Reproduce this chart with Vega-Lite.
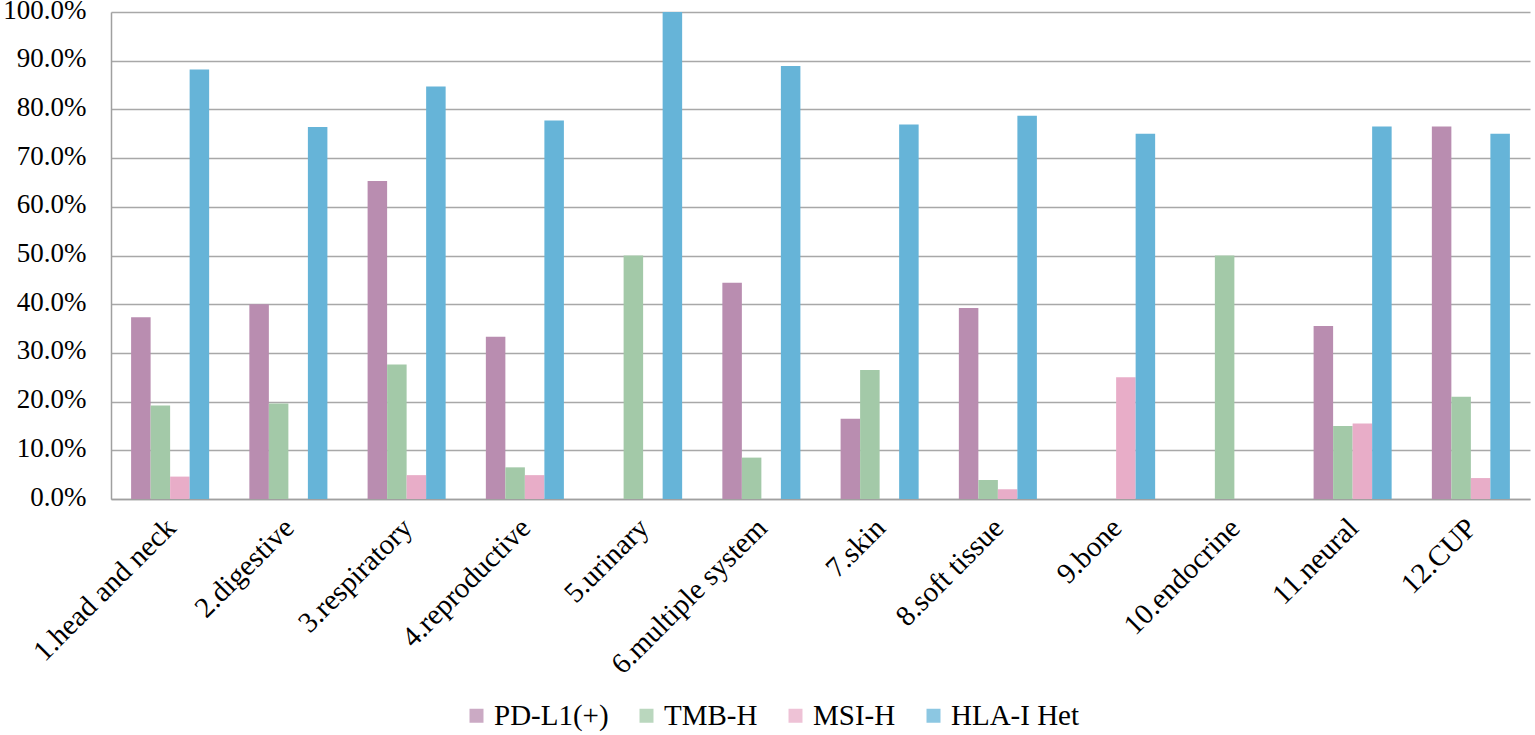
{
  "$schema": "https://vega.github.io/schema/vega-lite/v6.json",
  "width": 1419,
  "height": 487,
  "autosize": {"type": "none"},
  "padding": {"left": 111, "top": 12, "right": 5, "bottom": 236},
  "background": "white",
  "data": {
    "values": [
      {"site": "1.head and neck", "marker": "PD-L1(+)", "value": 0.373},
      {"site": "1.head and neck", "marker": "TMB-H", "value": 0.192},
      {"site": "1.head and neck", "marker": "MSI-H", "value": 0.046},
      {"site": "1.head and neck", "marker": "HLA-I Het", "value": 0.882},
      {"site": "2.digestive", "marker": "PD-L1(+)", "value": 0.400},
      {"site": "2.digestive", "marker": "TMB-H", "value": 0.196},
      {"site": "2.digestive", "marker": "MSI-H", "value": 0},
      {"site": "2.digestive", "marker": "HLA-I Het", "value": 0.764},
      {"site": "3.respiratory", "marker": "PD-L1(+)", "value": 0.653},
      {"site": "3.respiratory", "marker": "TMB-H", "value": 0.276},
      {"site": "3.respiratory", "marker": "MSI-H", "value": 0.049},
      {"site": "3.respiratory", "marker": "HLA-I Het", "value": 0.847},
      {"site": "4.reproductive", "marker": "PD-L1(+)", "value": 0.333},
      {"site": "4.reproductive", "marker": "TMB-H", "value": 0.065},
      {"site": "4.reproductive", "marker": "MSI-H", "value": 0.049},
      {"site": "4.reproductive", "marker": "HLA-I Het", "value": 0.777},
      {"site": "5.urinary", "marker": "PD-L1(+)", "value": 0},
      {"site": "5.urinary", "marker": "TMB-H", "value": 0.500},
      {"site": "5.urinary", "marker": "MSI-H", "value": 0},
      {"site": "5.urinary", "marker": "HLA-I Het", "value": 1.000},
      {"site": "6.multiple system", "marker": "PD-L1(+)", "value": 0.444},
      {"site": "6.multiple system", "marker": "TMB-H", "value": 0.085},
      {"site": "6.multiple system", "marker": "MSI-H", "value": 0},
      {"site": "6.multiple system", "marker": "HLA-I Het", "value": 0.889},
      {"site": "7.skin", "marker": "PD-L1(+)", "value": 0.165},
      {"site": "7.skin", "marker": "TMB-H", "value": 0.265},
      {"site": "7.skin", "marker": "MSI-H", "value": 0},
      {"site": "7.skin", "marker": "HLA-I Het", "value": 0.769},
      {"site": "8.soft tissue", "marker": "PD-L1(+)", "value": 0.392},
      {"site": "8.soft tissue", "marker": "TMB-H", "value": 0.039},
      {"site": "8.soft tissue", "marker": "MSI-H", "value": 0.020},
      {"site": "8.soft tissue", "marker": "HLA-I Het", "value": 0.787},
      {"site": "9.bone", "marker": "PD-L1(+)", "value": 0},
      {"site": "9.bone", "marker": "TMB-H", "value": 0},
      {"site": "9.bone", "marker": "MSI-H", "value": 0.250},
      {"site": "9.bone", "marker": "HLA-I Het", "value": 0.750},
      {"site": "10.endocrine", "marker": "PD-L1(+)", "value": 0},
      {"site": "10.endocrine", "marker": "TMB-H", "value": 0.500},
      {"site": "10.endocrine", "marker": "MSI-H", "value": 0},
      {"site": "10.endocrine", "marker": "HLA-I Het", "value": 0},
      {"site": "11.neural", "marker": "PD-L1(+)", "value": 0.355},
      {"site": "11.neural", "marker": "TMB-H", "value": 0.150},
      {"site": "11.neural", "marker": "MSI-H", "value": 0.155},
      {"site": "11.neural", "marker": "HLA-I Het", "value": 0.765},
      {"site": "12.CUP", "marker": "PD-L1(+)", "value": 0.765},
      {"site": "12.CUP", "marker": "TMB-H", "value": 0.210},
      {"site": "12.CUP", "marker": "MSI-H", "value": 0.043},
      {"site": "12.CUP", "marker": "HLA-I Het", "value": 0.750}
    ]
  },
  "mark": {"type": "bar", "opacity": 1},
  "encoding": {
    "x": {
      "field": "site",
      "type": "nominal",
      "sort": null,
      "title": null,
      "scale": {"paddingInner": 0.34, "paddingOuter": 0.17},
      "axis": {
        "labelAngle": -45,
        "labelAlign": "right",
        "labelBaseline": "top",
        "labelFontSize": 29,
        "labelColor": "black",
        "labelPadding": 14,
        "labelOffset": -9,
        "labelOverlap": false,
        "ticks": false,
        "domainColor": "#a0a0a0",
        "domainWidth": 1.5,
        "labelLimit": 300
      }
    },
    "xOffset": {"field": "marker", "type": "nominal", "sort": ["PD-L1(+)", "TMB-H", "MSI-H", "HLA-I Het"]},
    "y": {
      "field": "value",
      "type": "quantitative",
      "title": null,
      "scale": {"domain": [0, 1]},
      "axis": {
        "format": ".1%",
        "values": [0, 0.1, 0.2, 0.3, 0.4, 0.5, 0.6, 0.7, 0.8, 0.9, 1.0],
        "labelOverlap": false,
        "labelFontSize": 27,
        "labelColor": "black",
        "ticks": false,
        "labelPadding": 25,
        "labelOffset": -2,
        "gridColor": "#a8a8a8",
        "gridWidth": 1.5,
        "domainColor": "#a0a0a0",
        "domainWidth": 1.5
      }
    },
    "color": {
      "field": "marker",
      "type": "nominal",
      "sort": ["PD-L1(+)", "TMB-H", "MSI-H", "HLA-I Het"],
      "scale": {
        "domain": ["PD-L1(+)", "TMB-H", "MSI-H", "HLA-I Het"],
        "range": ["#b98db0", "#a3c9a8", "#e8adc8", "#66b4d8"]
      },
      "legend": {
        "title": null,
        "orient": "none",
        "legendX": 351,
        "legendY": 689,
        "direction": "horizontal",
        "symbolType": "square",
        "symbolSize": 196,
        "symbolStrokeWidth": 0,
        "labelFontSize": 29,
        "labelColor": "black",
        "labelOffset": 3,
        "columnPadding": 23,
        "symbolOpacity": 0.75
      }
    }
  },
  "config": {
    "font": "Liberation Serif",
    "axis": {"labelFont": "Liberation Serif"},
    "legend": {"labelFont": "Liberation Serif"},
    "view": {"stroke": null}
  }
}
